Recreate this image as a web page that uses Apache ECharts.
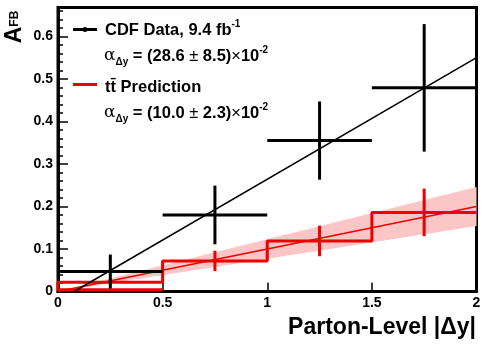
<!DOCTYPE html>
<html>
<head>
<meta charset="utf-8">
<script src="https://cdn.jsdelivr.net/npm/echarts@6/dist/echarts.min.js"></script>
<style>html,body{margin:0;padding:0;background:#fff}#c{width:486px;height:347px}</style>
</head>
<body>
<div id="c"></div>
<script>
// ---- data ----
var binEdges = [0, 0.5, 1, 1.5, 2];
var binCenters = [0.25, 0.75, 1.25, 1.75];
var dataVals = [0.047, 0.180, 0.355, 0.479];
var dataErrs = [0.040, 0.069, 0.092, 0.150];
var predVals = [0.022, 0.072, 0.119, 0.186];
var predErrs = [0.008, 0.024, 0.036, 0.056];
var predBaseline = 0.004;
var dataFitX = [0.077, 2];
var dataFitY = [0, 0.550];
var predFitX = [0, 2];
var predFitY = [0, 0.200];
var predBandLow = [0, 0.154];
var predBandHigh = [0, 0.246];
var xTicks = ['0', '0.5', '1', '1.5', '2'];

var FONT = '"Liberation Sans", Arial, sans-serif';
var RED = '#ee0000';

// build step path
var stepPts = [[binEdges[1], predBaseline], [binEdges[0], predBaseline], [binEdges[0], predVals[0]]];
for (var i = 0; i < predVals.length; i++) {
  if (i > 0) stepPts.push([binEdges[i], predVals[i]]);
  stepPts.push([binEdges[i + 1], predVals[i]]);
}
var bandData = predFitX.map(function (x, i) { return [x, predBandLow[i], predBandHigh[i]]; });

function errRender(color, withHoriz) {
  return function (params, api) {
    var x = api.value(0), y = api.value(1), e = api.value(2), x0 = api.value(3), x1 = api.value(4);
    var top = api.coord([x, y + e]), bot = api.coord([x, y - e]);
    var l = api.coord([x0, y]), r = api.coord([x1, y]);
    var ch = [{ type: 'line', shape: { x1: top[0], y1: top[1], x2: bot[0], y2: bot[1] }, style: { stroke: color, lineWidth: 3 } }];
    if (withHoriz) ch.push({ type: 'line', shape: { x1: l[0], y1: l[1], x2: r[0], y2: r[1] }, style: { stroke: color, lineWidth: 3 } });
    return { type: 'group', children: ch };
  };
}

function bandRender(params, api) {
  if (params.dataIndex !== 0) return null;
  var pts = [];
  for (var i = 0; i < bandData.length; i++) pts.push(api.coord([bandData[i][0], bandData[i][2]]));
  for (var j = bandData.length - 1; j >= 0; j--) pts.push(api.coord([bandData[j][0], bandData[j][1]]));
  return { type: 'polygon', shape: { points: pts }, style: { fill: '#fcc6c6', stroke: 'none' } };
}

var chart = echarts.init(document.getElementById('c'));
var richLegend = {
  t: { fontSize: 16.5, fontWeight: 'bold', fontFamily: FONT, color: '#000', lineHeight: 22, verticalAlign: 'middle' },
  sup: { fontSize: 10, fontWeight: 'bold', fontFamily: FONT, color: '#000', lineHeight: 22, verticalAlign: 'top' },
  a: { fontSize: 17, fontFamily: '"DejaVu Serif", serif', color: '#000', lineHeight: 22, verticalAlign: 'middle' },
  sub: { fontSize: 10, fontWeight: 'bold', fontFamily: FONT, color: '#000', lineHeight: 22, verticalAlign: 'bottom' },
  n: { fontSize: 16.5, fontFamily: FONT, color: '#000', lineHeight: 22, verticalAlign: 'middle' }
};

chart.setOption({
  animation: false,
  backgroundColor: '#fff',
  grid: { left: 58, right: 9.5, top: 7.5, bottom: 55.5, show: true, borderColor: '#000', borderWidth: 3, backgroundColor: 'transparent' },
  xAxis: {
    type: 'value', min: 0, max: 2, interval: 0.5,
    axisLine: { show: true, onZero: false, lineStyle: { color: '#000', width: 3 } },
    axisTick: { show: true, inside: true, length: 9, lineStyle: { color: '#000', width: 1.5 } },
    splitLine: { show: false },
    axisLabel: { color: '#000', fontSize: 14, fontWeight: 'bold', fontFamily: FONT, margin: 5,
      formatter: function (v) { return xTicks[Math.round(v / 0.5)]; } }
  },
  yAxis: {
    type: 'value', min: 0, max: 0.668, interval: 0.1,
    axisLine: { show: true, onZero: false, lineStyle: { color: '#000', width: 3 } },
    axisTick: { show: true, inside: true, length: 10, lineStyle: { color: '#000', width: 1.5 } },
    minorTick: { show: true, splitNumber: 5, length: 5, lineStyle: { color: '#000', width: 1.5 } },
    splitLine: { show: false },
    axisLabel: { color: '#000', fontSize: 14, fontWeight: 'bold', fontFamily: FONT, margin: 5, showMaxLabel: false,
      formatter: function (v) { return v > 0.65 ? '' : (Math.round(v * 10) / 10).toString(); } }
  },
  series: [
    { type: 'custom', renderItem: bandRender, data: bandData, z: 1 },
    { type: 'line', data: predFitX.map(function (x, i) { return [x, predFitY[i]]; }), symbol: 'none', lineStyle: { color: RED, width: 1.5 }, z: 2 },
    { type: 'line', data: stepPts, symbol: 'none', lineStyle: { color: RED, width: 3 }, z: 3 },
    { type: 'custom', renderItem: errRender(RED, false), z: 4,
      data: binCenters.map(function (x, i) { return [x, predVals[i], predErrs[i], binEdges[i], binEdges[i + 1]]; }) },
    { type: 'line', data: dataFitX.map(function (x, i) { return [x, dataFitY[i]]; }), symbol: 'none', lineStyle: { color: '#000', width: 1.5 }, z: 5 },
    { type: 'custom', renderItem: errRender('#000', true), z: 6,
      data: binCenters.map(function (x, i) { return [x, dataVals[i], dataErrs[i], binEdges[i], binEdges[i + 1]]; }) }
  ],
  graphic: [
    // y-axis title
    { type: 'text', x: 15, y: 27, rotation: Math.PI / 2, z: 10,
      style: { text: '{a|A}{b|FB}', textAlign: 'center', textVerticalAlign: 'middle',
        rich: { a: { fontSize: 23, fontWeight: 'bold', fontFamily: FONT, color: '#000', lineHeight: 24, verticalAlign: 'middle' },
                b: { fontSize: 12, fontWeight: 'bold', fontFamily: FONT, color: '#000', lineHeight: 24, verticalAlign: 'middle' } } } },
    // x-axis title
    { type: 'text', x: 476, y: 328, z: 10,
      style: { text: 'Parton-Level |Δy|', textAlign: 'right', textVerticalAlign: 'middle', fontSize: 23, fontWeight: 'bold', fontFamily: FONT, fill: '#000' } },
    // legend
    { type: 'line', shape: { x1: 73, y1: 29.5, x2: 97, y2: 29.5 }, style: { stroke: '#000', lineWidth: 3 }, z: 10 },
    { type: 'circle', shape: { cx: 85, cy: 29.5, r: 2.5 }, style: { fill: '#000' }, z: 10 },
    { type: 'text', x: 105, y: 30, z: 10,
      style: { text: '{t|CDF Data, 9.4 fb}{sup|-1}', textVerticalAlign: 'middle', rich: richLegend } },
    { type: 'text', x: 104, y: 56, z: 10,
      style: { text: '{a|α}{sub|Δy}{t| = (28.6 }{n|±}{t| 8.5)}{n|×}{t|10}{sup|-2}', textVerticalAlign: 'middle', rich: richLegend } },
    { type: 'line', shape: { x1: 73, y1: 84.5, x2: 97, y2: 84.5 }, style: { stroke: RED, lineWidth: 3 }, z: 10 },
    { type: 'text', x: 105, y: 87, z: 10,
      style: { text: '{t|tt̄ Prediction}', textVerticalAlign: 'middle', rich: richLegend } },
    { type: 'text', x: 104, y: 113, z: 10,
      style: { text: '{a|α}{sub|Δy}{t| = (10.0 }{n|±}{t| 2.3)}{n|×}{t|10}{sup|-2}', textVerticalAlign: 'middle', rich: richLegend } }
  ]
});
</script>
</body>
</html>
